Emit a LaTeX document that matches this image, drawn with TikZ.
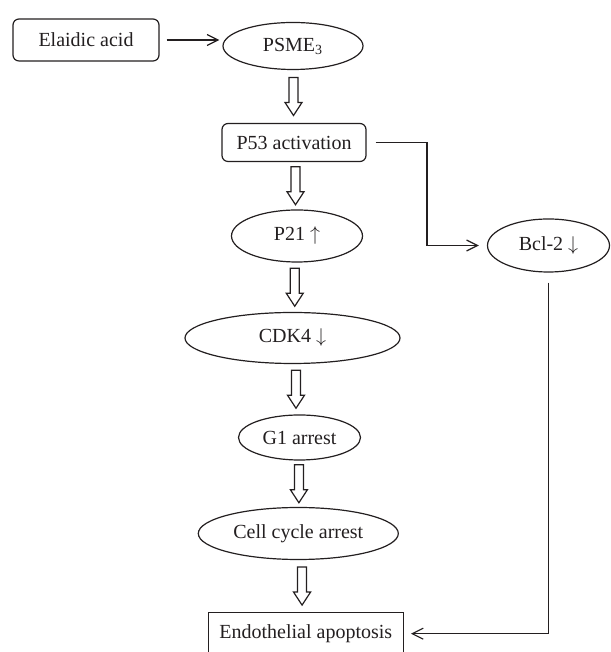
\documentclass[tikz,border=0pt]{standalone}
\usepackage{fontspec}
\setmainfont{Liberation Serif}
\usetikzlibrary{arrows.meta,positioning,calc,shapes.geometric}
\definecolor{figInk}{HTML}{231F20}

\begin{document}
\begin{tikzpicture}[x=0.5pt,y=0.5pt,
  box/.style={draw=figInk, text=figInk, line width=0.6pt, inner sep=0pt,
              font=\fontsize{10}{12}\selectfont, align=center},
  rbox/.style={box, rounded corners=3pt},
  oval/.style={box, ellipse},
  arr/.style={-{Straight Barb[length=5.5pt,width=5.5pt]}, draw=figInk, line width=0.6pt},
  % block arrow between two stacked nodes
  hollow/.style={draw=figInk, line width=0.6pt, line join=miter, to path={
    let \p3=($(\tikztostart)!0.5!(\tikztotarget)$) in
      (\x3-2.25pt,\y3+9.5pt) -- (\x3-2.25pt,\y3-3pt) -- (\x3-4.25pt,\y3-3pt)
      -- (\x3,\y3-9.5pt) -- (\x3+4.25pt,\y3-3pt) -- (\x3+2.25pt,\y3-3pt)
      -- (\x3+2.25pt,\y3+9.5pt) -- cycle}}]

  \useasboundingbox (0,0) rectangle (610,652);

  \node[rbox, minimum width=73pt, minimum height=21pt] (acid) at (86,612) {Elaidic acid};
  \node[oval, minimum width=70pt, minimum height=23.5pt] (psme) at (293,606) {PSME\textsubscript{3}};
  \node[rbox, minimum width=72pt, minimum height=19pt] (p53) at (294,509.5) {P53 activation};
  \node[oval, minimum width=65.5pt, minimum height=26pt] (p21) at (297,416) {P21 $\uparrow$};
  \node[oval, minimum width=61pt, minimum height=26.5pt] (bcl) at (548.5,406.5) {Bcl-2 $\downarrow$};
  \node[oval, minimum width=107.5pt, minimum height=25.5pt] (cdk) at (292.5,314) {CDK4 $\downarrow$};
  \node[oval, minimum width=61pt, minimum height=22.5pt] (g1) at (299.5,214.5) {G1 arrest};
  \node[oval, minimum width=100pt, minimum height=26pt] (cca) at (298.3,118.5) {Cell cycle arrest};
  \node[box, minimum width=97.5pt, minimum height=21pt] (endo) at (305.8,18.3) {Endothelial apoptosis};

  \draw[arr] ([xshift=3.5pt]acid.east) -- ([xshift=-1.5pt]acid.east -| psme.west);

  \draw[hollow] (psme.south) to (p53.north);
  \draw[hollow] (p53.south) to (p21.north);
  \draw[hollow] (p21.south) to (cdk.north);
  \draw[hollow] (cdk.south) to (g1.north);
  \draw[hollow] (g1.south) to (cca.north);
  \draw[hollow] (cca.south) to (endo.north);

  \draw[arr] ([xshift=4.5pt]p53.east) -| ([xshift=-30pt]bcl.west) -- ([xshift=-4pt]bcl.west);
  \draw[arr] ([yshift=-5pt]bcl.south) |- ([xshift=3.5pt]endo.east);
\end{tikzpicture}
\end{document}
